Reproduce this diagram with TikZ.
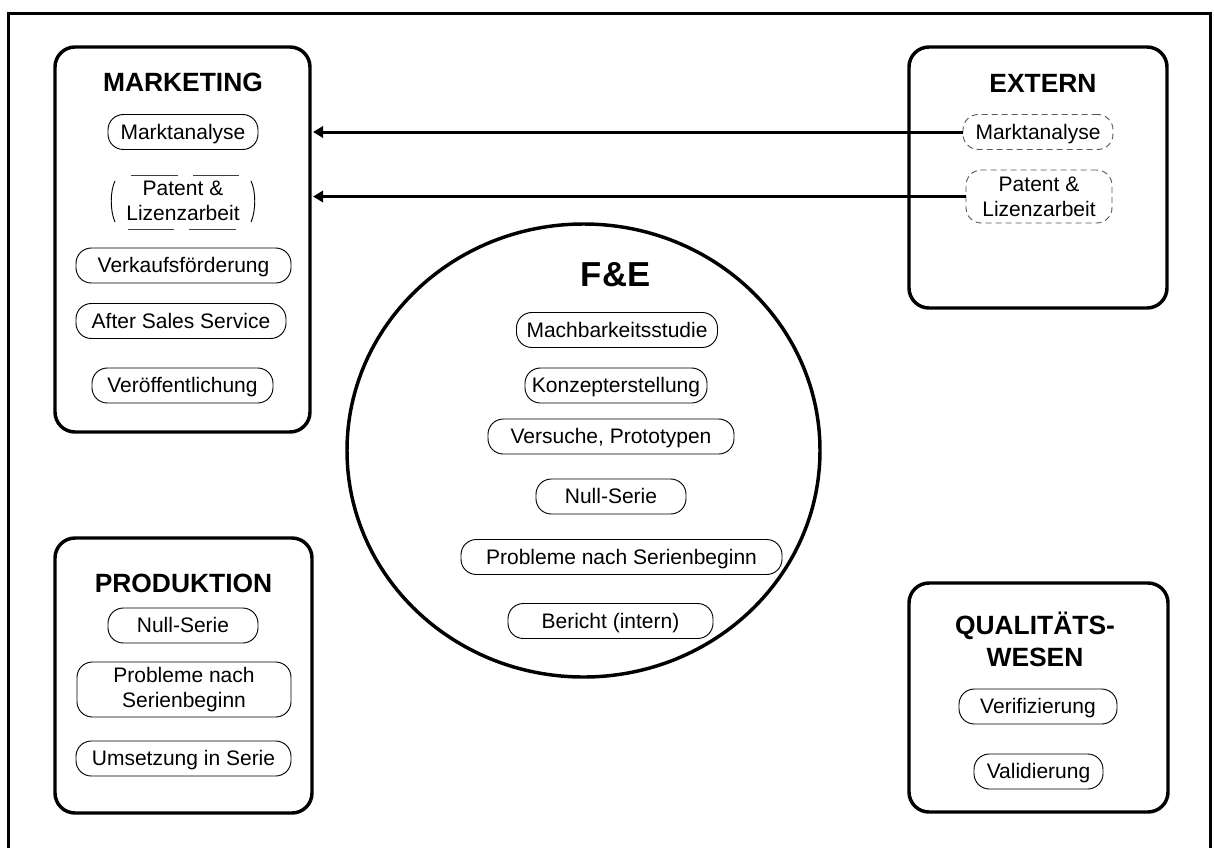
\documentclass[tikz,border=0pt]{standalone}
\usepackage{fontspec}
\setmainfont{Liberation Sans}
\usetikzlibrary{arrows.meta,shapes.geometric}
\begin{document}
\begin{tikzpicture}[x=0.75pt,y=-0.75pt,
  area/.style={draw, line width=2.6pt, rounded corners=15pt, inner sep=0pt},
  heading/.style={font=\fontsize{19.8pt}{24pt}\selectfont\bfseries, align=center, inner sep=0pt},
  pill/.style={draw, line width=0.7pt, rounded corners=11.5pt, inner sep=0pt,
    minimum height=26.25pt, text height=11.2pt, text depth=0pt,
    font=\fontsize{15.75pt}{18.75pt}\selectfont},
  pilltwo/.style={draw, line width=0.7pt, rounded corners=11.5pt, inner sep=0pt,
    minimum height=41.25pt, align=center, font=\fontsize{15.75pt}{18.75pt}\selectfont},
  ghost/.style={draw=black!65, dash pattern=on 4.5pt off 3pt},
  feed/.style={line width=2.25pt, -{Triangle[length=7.5pt,width=8.5pt]}, shorten >=1pt}]

\useasboundingbox (0,0) rectangle (1214,847);

% outer frame, running off the lower edge
\draw[line width=2.25pt] (8,880) |- (1210,13) -- (1210,880);

% department areas
\node[area, minimum width=191.25pt, minimum height=288.75pt] (mkt) at (182.5,239.5) {};
\node[area, minimum width=193.5pt,  minimum height=195.75pt] (ext) at (1038,177.5) {};
\node[area, minimum width=192.75pt, minimum height=206.25pt] (prd) at (183.5,675.5) {};
\node[area, minimum width=194.25pt, minimum height=171.75pt] (qw)  at (1038.5,697.5) {};
\node[ellipse, draw, line width=2.6pt, inner sep=0pt,
      minimum width=354.75pt, minimum height=339.75pt] (fe) at (583.5,450.5) {};

% headings
\node[heading] (mktT) at (183,82) {MARKETING};
\node[heading] (extT) at (1043,83) {EXTERN};
\node[heading, font=\fontsize{26pt}{30pt}\selectfont\bfseries] (feT) at (615.5,275) {F\&E};
\node[heading] (prdT) at (183.5,583) {PRODUKTION};
\node[heading] (qwT) at (1035,639) {QUALITÄTS-\\WESEN};

% marketing
\node[pill, minimum width=112.5pt] (mk1) at (183,132) {Marktanalyse};
\node[align=center, inner sep=0pt, font=\fontsize{15.75pt}{18.75pt}\selectfont] (mk2) at (183,201) {Patent \&\\Lizenzarbeit};
\begin{scope}[shift={(mk2.center)}, line width=0.7pt]
  \draw (-68,-20) .. controls (-73,-10) and (-73,10) .. (-68,21);
  \draw (68,-20) .. controls (73,-10) and (73,10) .. (68,21);
  \draw[black!75] (-52,-26) -- (-5,-26) (10,-26) -- (56,-26);
  \draw[black!75] (-55,28) -- (-9,28) (6,28) -- (53,28);
\end{scope}
\node[pill, minimum width=161.25pt] (mk3) at (183.5,265.5) {Verkaufsförderung};
\node[pill, minimum width=157.5pt]  (mk4) at (181,321) {After Sales Service};
\node[pill, minimum width=135.75pt] (mk5) at (182.5,385.5) {Veröffentlichung};

% extern
\node[pill, ghost, minimum width=112.5pt] (ex1) at (1038,132) {Marktanalyse};
\node[pilltwo, ghost, minimum width=109.5pt, minimum height=39.75pt] (ex2) at (1039,196.5) {Patent \&\\Lizenzarbeit};

% F&E
\node[pill, minimum width=150.75pt] (fe1) at (617,330) {Machbarkeitsstudie};
\node[pill, minimum width=136.5pt]  (fe2) at (616,385.5) {Konzepterstellung};
\node[pill, minimum width=184.5pt]  (fe3) at (611,436.5) {Versuche, Prototypen};
\node[pill, minimum width=112.5pt]  (fe4) at (611,496.5) {Null-Serie};
\node[pill, minimum width=240.75pt] (fe5) at (621.5,557) {Probleme nach Serienbeginn};
\node[pill, minimum width=153.75pt] (fe6) at (610.5,621) {Bericht (intern)};

% Produktion
\node[pill, minimum width=112.5pt]    (pr1) at (183,625.5) {Null-Serie};
\node[pilltwo, minimum width=160.5pt] (pr2) at (184,689.5) {Probleme nach\\Serienbeginn};
\node[pill, minimum width=161.25pt]   (pr3) at (183.5,758.5) {Umsetzung in Serie};

% Qualitaetswesen
\node[pill, minimum width=118.5pt] (qw1) at (1038,706.5) {Verifizierung};
\node[pill, minimum width=96.75pt] (qw2) at (1038.5,771.5) {Validierung};

% flows from extern to marketing
\draw[feed] (ex1.west) -- (ex1.west -| mkt.east);
\draw[feed] (ex2.west) -- (ex2.west -| mkt.east);
\end{tikzpicture}
\end{document}
